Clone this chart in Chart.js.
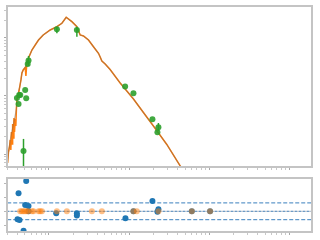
<!DOCTYPE html>
<html><head><meta charset="utf-8">
<script src="https://cdn.jsdelivr.net/npm/chart.js@4/dist/chart.umd.min.js"></script>
<style>
html,body{margin:0;padding:0;background:#fff;width:320px;height:240px;overflow:hidden}
canvas{position:absolute;left:0}
#top{top:0;width:320px;height:172px}
#bot{top:172px;width:320px;height:68px}
</style></head>
<body>
<canvas id="top" width="320" height="172"></canvas>
<canvas id="bot" width="320" height="68"></canvas>
<script>
// ---- data ----
const modelX = [0.305,0.313,0.323,0.329,0.335,0.3405,0.3467,0.3527,0.359,0.366,0.3725,0.380,0.3866,0.3936,0.400,0.418,0.4325,0.448,0.4606,0.478,0.506,0.5166,0.524,0.533,0.5566,0.614,0.675,0.742,0.849,1.038,1.258,1.452,1.643,1.936,2.234,2.456,2.701,3.118,3.597,4.155,4.363,4.58,5.035,5.81,7.745,11.35,15.12,20.15,29.6,44.6,66.7];
const modelY = [0.0070,0.0108,0.0137,0.0174,0.0117,0.0239,0.0149,0.0329,0.0189,0.0418,0.0239,0.0401,0.0304,0.0621,0.0888,0.1127,0.143,0.189,0.249,0.281,0.310,0.221,0.292,0.371,0.452,0.621,0.757,0.924,1.126,1.374,1.566,1.792,2.275,1.910,1.566,1.126,1.083,0.924,0.708,0.545,0.470,0.401,0.356,0.286,0.1676,0.0888,0.0519,0.0304,0.0146,0.0059,0.0027];
const smoothX = [0.305,0.313,0.323,0.329,0.3405,0.3527,0.366,0.380,0.3936,0.400,0.418,0.4325,0.448,0.4606,0.478,0.506,0.533,0.5566,0.614,0.675,0.742,0.849,1.038,1.258,1.452,1.643,1.936,2.234,2.456,2.701,3.118,3.597,4.155,4.363,4.58,5.035,5.81,7.745,11.35,15.12,20.15,29.6,44.6,66.7];
const smoothY = [0.0070,0.0108,0.0137,0.0174,0.0220,0.0280,0.0360,0.0460,0.0621,0.0888,0.1127,0.143,0.189,0.249,0.281,0.310,0.371,0.452,0.621,0.757,0.924,1.126,1.374,1.566,1.792,2.275,1.910,1.566,1.126,1.083,0.924,0.708,0.545,0.470,0.401,0.356,0.286,0.1676,0.0888,0.0519,0.0304,0.0146,0.0059,0.0027];
const obsX  = [0.399,0.426,0.439,0.418,0.506,0.521,0.482,0.544,0.557,1.258,2.234,8.94,11.35,19.58,23.26,22.6];
const obsY  = [0.0924,0.104,0.104,0.0728,0.127,0.0913,0.0113,0.356,0.409,1.41,1.374,0.146,0.111,0.0397,0.0289,0.0237];
const obsLo = [0.0924,0.104,0.104,0.0728,0.127,0.0913,0.002,0.356,0.329,1.205,1.053,0.146,0.111,0.0397,0.0249,0.0237];
const obsHi = [0.0924,0.104,0.104,0.0728,0.127,0.0913,0.0182,0.356,0.49,1.566,1.566,0.146,0.111,0.0397,0.0342,0.0237];
const residX = [0.406,0.418,0.4298,0.4825,0.506,0.521,0.5566,0.5566,1.233,2.234,2.234,9.02,11.35,19.58,22.6,23.26,60.7,102.6];
const residY = [-0.57,1.29,-0.62,-1.39,0.45,2.16,0.38,0,-0.14,-0.14,-0.30,-0.50,0,0.74,-0.03,0.14,0,0];
const limX = [0.4386,0.4606,0.4825,0.506,0.5317,0.5566,0.614,0.643,0.742,0.779,0.818,1.258,1.677,3.436,4.58,11.35,12.51,23.26,60.7,102.6];
const limY = [0,0,0,0,0,0,0,0,0,0,0,0,0,0,0,0,0,0,0,0];
const bandLevels = [0.6,-0.6];
const zeroLevel = [0];
const xRange = [0.302,1919];
const yTopRange = [0.00597,3.56];
const yBotRange = [-1.479,2.379];
const yBotTicks = [-1,0,1,2];

// ---- helpers ----
const FRAME = '#c4c4c4';
function pts(xs, ys){ return xs.map((x,i)=>({x:x,y:ys[i]})); }
function logTicks(scale){
  const out=[]; const lo=Math.floor(Math.log10(scale.min)), hi=Math.ceil(Math.log10(scale.max));
  for(let e=lo;e<=hi;e++) for(let m=1;m<=9;m++){ const v=m*Math.pow(10,e); if(v>=scale.min&&v<=scale.max) out.push({value:v}); }
  scale.ticks=out;
}
function isMajor(v){ const l=Math.log10(v); return Math.abs(l-Math.round(l))<1e-6; }
const frame = { id:'frame', afterDraw(c){ const a=c.chartArea, g=c.ctx; g.save(); g.strokeStyle=FRAME; g.lineWidth=2; g.strokeRect(a.left,a.top,a.right-a.left,a.bottom-a.top); g.restore(); } };
function logAxis(range, pos){
  return { type:'logarithmic', position:pos, min:range[0], max:range[1], afterBuildTicks:logTicks,
    ticks:{display:false}, border:{display:false},
    grid:{drawOnChartArea:false, drawTicks:true, tickLength:3, tickWidth:1,
      tickColor:ctx=> (ctx.tick && isMajor(ctx.tick.value)) ? '#a8a8a8':'#c8c8c8'} };
}
const common = { responsive:false, animation:false, devicePixelRatio:1,
  plugins:{legend:{display:false}, tooltip:{enabled:false}} };

// ---- top panel ----
const topSets = [];
topSets.push({type:'scatter', data:pts(obsX,obsY), backgroundColor:'rgba(44,160,44,0.9)', borderWidth:0, pointRadius:3, order:0});
obsX.forEach((x,i)=>{ if(obsHi[i]!==obsLo[i]) topSets.push({type:'line', data:[{x:x,y:obsLo[i]},{x:x,y:obsHi[i]}], borderColor:'#2ca02c', borderWidth:1.5, pointRadius:0, order:1}); });
topSets.push({type:'line', data:pts(smoothX,smoothY), borderColor:'rgba(150,105,70,0.55)', borderWidth:1.2, pointRadius:0, tension:0, order:2});
topSets.push({type:'line', data:pts(modelX,modelY), borderColor:'#ff7f0e', borderWidth:1.5, pointRadius:0, tension:0, order:3});
new Chart(document.getElementById('top'), {
  type:'scatter', data:{datasets:topSets},
  options:Object.assign({}, common, {
    layout:{padding:{left:4,top:6,right:8,bottom:2}},
    scales:{ x:logAxis(xRange,'bottom'), y:logAxis(yTopRange,'left') } }),
  plugins:[frame]
});

// ---- bottom panel ----
const botSets = [];
botSets.push({type:'scatter', data:pts(limX,limY), backgroundColor:'rgba(255,127,14,0.5)', borderWidth:0, pointRadius:3, order:0});
botSets.push({type:'scatter', data:pts(residX,residY), backgroundColor:'#1f77b4', borderWidth:0, pointRadius:3, order:1});
bandLevels.forEach(v=>botSets.push({type:'line', data:[{x:xRange[0],y:v},{x:xRange[1],y:v}], borderColor:'#3a7fbd', borderWidth:1, borderDash:[4,2], pointRadius:0, order:3}));
zeroLevel.forEach(v=>{
  botSets.push({type:'line', data:[{x:xRange[0],y:v},{x:xRange[1],y:v}], borderColor:'rgba(150,170,190,0.8)', borderWidth:1, pointRadius:0, order:4});
  botSets.push({type:'line', data:[{x:xRange[0],y:v},{x:xRange[1],y:v}], borderColor:'#3a7fbd', borderWidth:1, borderDash:[1.5,2.5], pointRadius:0, order:3});
});
new Chart(document.getElementById('bot'), {
  type:'scatter', data:{datasets:botSets},
  options:Object.assign({}, common, {
    layout:{padding:{left:4,top:6,right:8,bottom:5}},
    scales:{ x:logAxis(xRange,'bottom'),
      y:{ type:'linear', position:'left', min:yBotRange[0], max:yBotRange[1],
          afterBuildTicks:s=>{ s.ticks=yBotTicks.map(v=>({value:v})); },
          ticks:{display:false}, border:{display:false},
          grid:{drawOnChartArea:false, drawTicks:true, tickLength:3, tickColor:'#b8b8b8'} } } }),
  plugins:[frame]
});
</script>
</body></html>
